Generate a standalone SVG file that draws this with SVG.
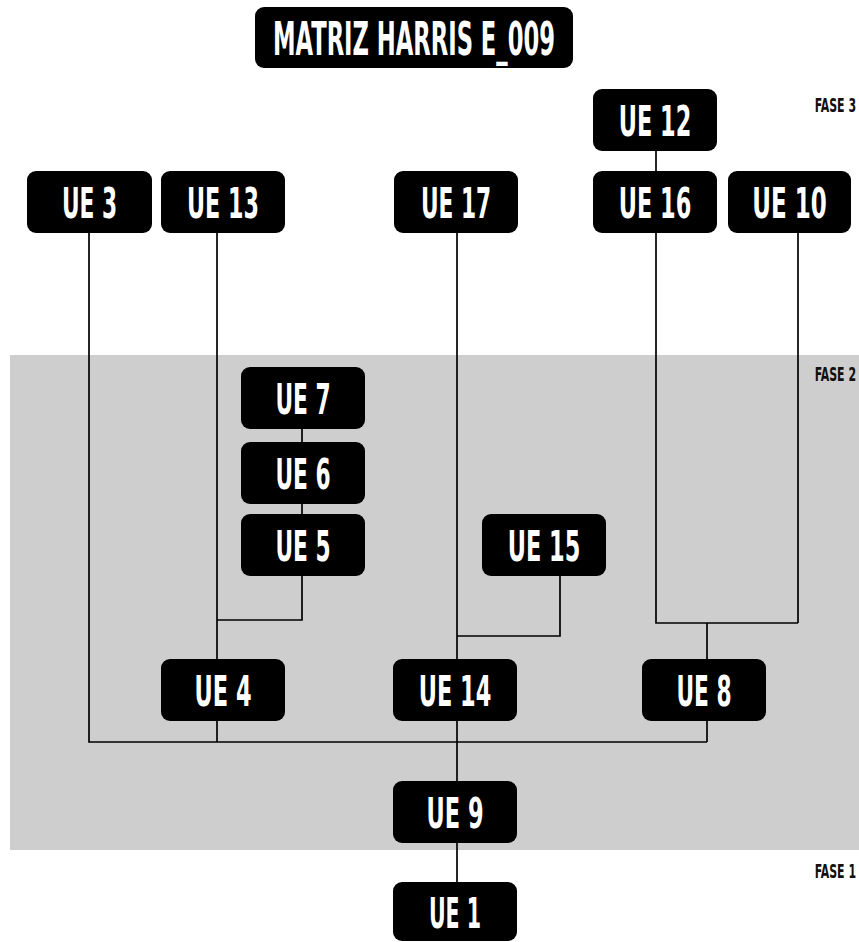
<svg xmlns="http://www.w3.org/2000/svg" width="859" height="942" viewBox="0 0 859 942">
<style>
.box{fill:#000;}
.lbl{fill:#fff;font-family:"DejaVu Sans Condensed","Liberation Sans",sans-serif;font-weight:bold;font-size:43px;text-anchor:middle;}
.ttl{fill:#fff;font-family:"DejaVu Sans Condensed","Liberation Sans",sans-serif;font-weight:bold;font-size:47px;text-anchor:middle;}
.fase{fill:#111;font-family:"DejaVu Sans Condensed","Liberation Sans",sans-serif;font-weight:bold;font-size:19px;text-anchor:end;}
.con{fill:none;stroke:#000;stroke-width:1.7;}
</style>
<rect x="0" y="0" width="859" height="942" fill="#fff"/>
<rect id="fase2-band" x="10" y="355" width="849" height="495" fill="#cecece"/>
<g id="phases">
<text class="fase" transform="translate(856 112) scale(0.64 1)">FASE 3</text>
<text class="fase" transform="translate(856 381) scale(0.64 1)">FASE 2</text>
<text class="fase" transform="translate(856 878) scale(0.64 1)">FASE 1</text>
</g>
<g id="title">
<rect class="box" x="255" y="7" width="318" height="61" rx="9"/>
<text class="ttl" transform="translate(414 55) scale(0.54 1)" textLength="522" lengthAdjust="spacingAndGlyphs">MATRIZ HARRIS E_009</text>
</g>
<g id="connectors">
<path class="con" d="M656 151V171"/>
<path class="con" d="M89 233V742H707"/>
<path class="con" d="M217 233V659"/>
<path class="con" d="M217 721V742"/>
<path class="con" d="M302 576V620H217"/>
<path class="con" d="M302 429V442"/>
<path class="con" d="M302 504V514"/>
<path class="con" d="M457 233V659"/>
<path class="con" d="M560 576V636H457"/>
<path class="con" d="M656 233V623H798"/>
<path class="con" d="M798 233V623"/>
<path class="con" d="M707 623V659"/>
<path class="con" d="M707 721V742"/>
<path class="con" d="M457 721V781"/>
<path class="con" d="M457 843V882"/>
</g>
<g id="ue12"><rect class="box" x="593" y="89" width="124" height="62" rx="9"/><text class="lbl" transform="translate(655 135.5) scale(0.6 1)" textLength="121" lengthAdjust="spacingAndGlyphs">UE 12</text></g>
<g id="ue3"><rect class="box" x="27" y="171" width="125" height="62" rx="9"/><text class="lbl" transform="translate(89.5 217.5) scale(0.6 1)" textLength="92" lengthAdjust="spacingAndGlyphs">UE 3</text></g>
<g id="ue13"><rect class="box" x="161" y="171" width="124" height="62" rx="9"/><text class="lbl" transform="translate(223 217.5) scale(0.6 1)" textLength="120" lengthAdjust="spacingAndGlyphs">UE 13</text></g>
<g id="ue17"><rect class="box" x="394" y="171" width="124" height="62" rx="9"/><text class="lbl" transform="translate(456 217.5) scale(0.6 1)" textLength="117" lengthAdjust="spacingAndGlyphs">UE 17</text></g>
<g id="ue16"><rect class="box" x="593" y="171" width="124" height="62" rx="9"/><text class="lbl" transform="translate(655 217.5) scale(0.6 1)" textLength="121" lengthAdjust="spacingAndGlyphs">UE 16</text></g>
<g id="ue10"><rect class="box" x="728" y="171" width="123" height="62" rx="9"/><text class="lbl" transform="translate(789.5 217.5) scale(0.6 1)" textLength="124" lengthAdjust="spacingAndGlyphs">UE 10</text></g>
<g id="ue7"><rect class="box" x="241" y="367" width="124" height="62" rx="9"/><text class="lbl" transform="translate(303 413.5) scale(0.6 1)" textLength="92" lengthAdjust="spacingAndGlyphs">UE 7</text></g>
<g id="ue6"><rect class="box" x="241" y="442" width="124" height="62" rx="9"/><text class="lbl" transform="translate(303 488.5) scale(0.6 1)" textLength="92" lengthAdjust="spacingAndGlyphs">UE 6</text></g>
<g id="ue5"><rect class="box" x="241" y="514" width="124" height="62" rx="9"/><text class="lbl" transform="translate(303 560.5) scale(0.6 1)" textLength="92" lengthAdjust="spacingAndGlyphs">UE 5</text></g>
<g id="ue15"><rect class="box" x="482" y="514" width="124" height="62" rx="9"/><text class="lbl" transform="translate(544 560.5) scale(0.6 1)" textLength="121" lengthAdjust="spacingAndGlyphs">UE 15</text></g>
<g id="ue4"><rect class="box" x="161" y="659" width="124" height="62" rx="9"/><text class="lbl" transform="translate(223 705.5) scale(0.6 1)" textLength="95" lengthAdjust="spacingAndGlyphs">UE 4</text></g>
<g id="ue14"><rect class="box" x="393" y="659" width="124" height="62" rx="9"/><text class="lbl" transform="translate(455 705.5) scale(0.6 1)" textLength="121" lengthAdjust="spacingAndGlyphs">UE 14</text></g>
<g id="ue8"><rect class="box" x="642" y="659" width="124" height="62" rx="9"/><text class="lbl" transform="translate(704 705.5) scale(0.6 1)" textLength="92" lengthAdjust="spacingAndGlyphs">UE 8</text></g>
<g id="ue9"><rect class="box" x="393" y="781" width="124" height="62" rx="9"/><text class="lbl" transform="translate(455 827.5) scale(0.6 1)" textLength="95" lengthAdjust="spacingAndGlyphs">UE 9</text></g>
<g id="ue1"><rect class="box" x="393" y="882" width="124" height="59" rx="9"/><text class="lbl" transform="translate(455 928) scale(0.6 1)" textLength="87" lengthAdjust="spacingAndGlyphs">UE 1</text></g>
</svg>
